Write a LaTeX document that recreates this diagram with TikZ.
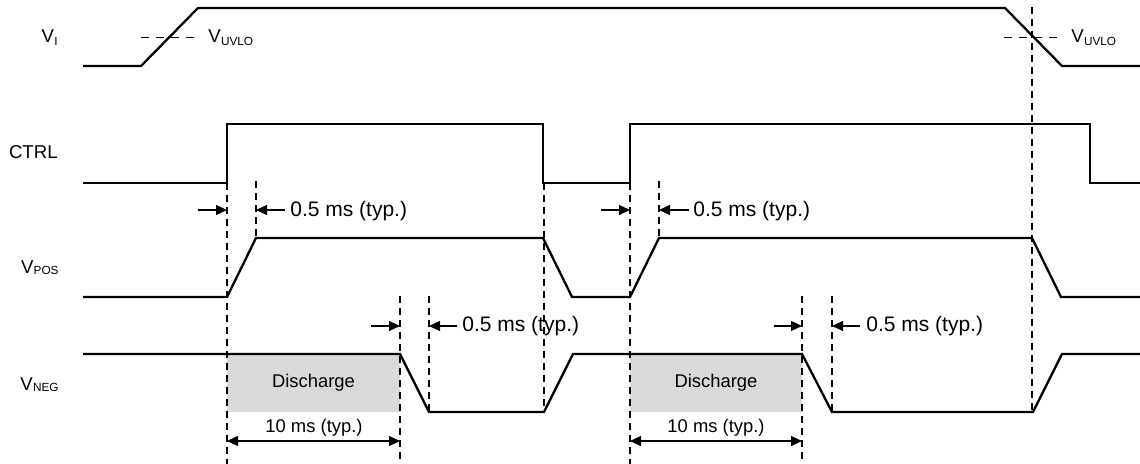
\documentclass[tikz,border=0pt]{standalone}
\usepackage{fontspec}
\setmainfont{Liberation Sans}
\usetikzlibrary{arrows.meta}
\definecolor{shadegray}{HTML}{D9D9D9}
\newcommand{\sigsub}[2][0.4pt]{V\kern0.1pt{\fontsize{5.9}{6}\selectfont\raisebox{-#1}{#2}}}
\begin{document}
\begin{tikzpicture}[x=0.5pt,y=-0.5pt,
  sig/.style={line width=1.15pt, line join=miter},
  guide/.style={line width=0.55pt, dash pattern=on 3.5pt off 2.5pt},
  hguide/.style={line width=0.55pt, dash pattern=on 4pt off 3.5pt},
  dimarrow/.style={line width=0.55pt, -{Triangle[length=5.5pt,width=5pt]}},
  dimboth/.style={line width=0.55pt, {Triangle[length=5.5pt,width=5pt]}-{Triangle[length=5.5pt,width=5pt]}},
  lab/.style={font=\fontsize{9.3}{11}\selectfont, inner sep=0pt},
  timelab/.style={font=\fontsize{10.5}{12}\selectfont, inner sep=0pt, anchor=base west},
  smalllab/.style={font=\fontsize{9.2}{11}\selectfont, inner sep=0pt, anchor=base},
]
\useasboundingbox (0,0) rectangle (1140,464);

% shaded discharge regions
\fill[shadegray] (227,354) rectangle (400,412);
\fill[shadegray] (630,354) rectangle (802,412);

% dashed guides
\draw[guide] (227,183) -- (227,464);
\draw[guide] (256,181) -- (256,238);
\draw[guide] (400,296) -- (400,464);
\draw[guide] (429,296) -- (429,412);
\draw[guide] (544,183) -- (544,412);
\draw[guide] (630,183) -- (630,464);
\draw[guide] (659,181) -- (659,238);
\draw[guide] (802,296) -- (802,464);
\draw[guide] (832,296) -- (832,412);
\draw[guide] (1032,7) -- (1032,412);
\draw[hguide] (141,37.5) -- (198,37.5);
\draw[hguide] (1004,37.5) -- (1062,37.5);

% signals
\draw[sig] (83,66) -- (141,66) -- (198,8) -- (1005,8) -- (1062,66) -- (1140,66);
\draw[sig] (83,183) -- (227,183) -- (227,124) -- (543,124) -- (543,183) -- (630,183) -- (630,124) -- (1090,124) -- (1090,183) -- (1140,183);
\draw[sig] (83,297) -- (227,297) -- (256,238) -- (543,238) -- (572,297) -- (630,297) -- (659,238) -- (1032,238) -- (1061,297) -- (1140,297);
\draw[sig] (83,354) -- (400,354) -- (429,412) -- (544,412) -- (573,354) -- (802,354) -- (832,412) -- (1033,412) -- (1062,354) -- (1140,354);

% signal labels
\node[lab, anchor=base east] (lvi) at (58,43) {\sigsub[1.3pt]{I}};
\node[lab, anchor=base east] (lctrl) at (58,159) {CTRL};
\node[lab, anchor=base east] (lpos) at (59,274) {\sigsub[0.2pt]{POS}};
\node[lab, anchor=base east] (lneg) at (59,391) {\sigsub[0.4pt]{NEG}};
\node[lab, anchor=base west] (uvlo1) at (208,43) {\sigsub[1.3pt]{UVLO}};
\node[lab, anchor=base west] (uvlo2) at (1071,43) {\sigsub[1.3pt]{UVLO}};

% 0.5 ms delays
\coordinate (a1s) at (198,210); \coordinate (a1e) at (227,210);
\coordinate (b1s) at (285,210); \coordinate (b1e) at (256,210);
\draw[dimarrow] (a1s) -- (a1e);
\draw[dimarrow] (b1s) -- (b1e);
\node[timelab] (t1) at (290,217) {0.5 ms (typ.)};

\coordinate (a2s) at (371,326); \coordinate (a2e) at (400,326);
\coordinate (b2s) at (457,326); \coordinate (b2e) at (429,326);
\draw[dimarrow] (a2s) -- (a2e);
\draw[dimarrow] (b2s) -- (b2e);
\node[timelab] (t2) at (462,332) {0.5 ms (typ.)};

\coordinate (a3s) at (601,210); \coordinate (a3e) at (630,210);
\coordinate (b3s) at (689,210); \coordinate (b3e) at (659,210);
\draw[dimarrow] (a3s) -- (a3e);
\draw[dimarrow] (b3s) -- (b3e);
\node[timelab] (t3) at (693,217) {0.5 ms (typ.)};

\coordinate (a4s) at (774,326); \coordinate (a4e) at (802,326);
\coordinate (b4s) at (860,326); \coordinate (b4e) at (832,326);
\draw[dimarrow] (a4s) -- (a4e);
\draw[dimarrow] (b4s) -- (b4e);
\node[timelab] (t4) at (866,332) {0.5 ms (typ.)};

% discharge and 10 ms
\node[smalllab] (d1) at (313.5,388) {Discharge};
\node[smalllab] (d2) at (716,388) {Discharge};
\coordinate (m1s) at (227,441); \coordinate (m1e) at (400,441);
\coordinate (m2s) at (630,441); \coordinate (m2e) at (802,441);
\draw[dimboth] (m1s) -- (m1e);
\draw[dimboth] (m2s) -- (m2e);
\node[smalllab] (ten1) at (314,432) {10 ms (typ.)};
\node[smalllab] (ten2) at (716,432) {10 ms (typ.)};
\end{tikzpicture}
\end{document}
